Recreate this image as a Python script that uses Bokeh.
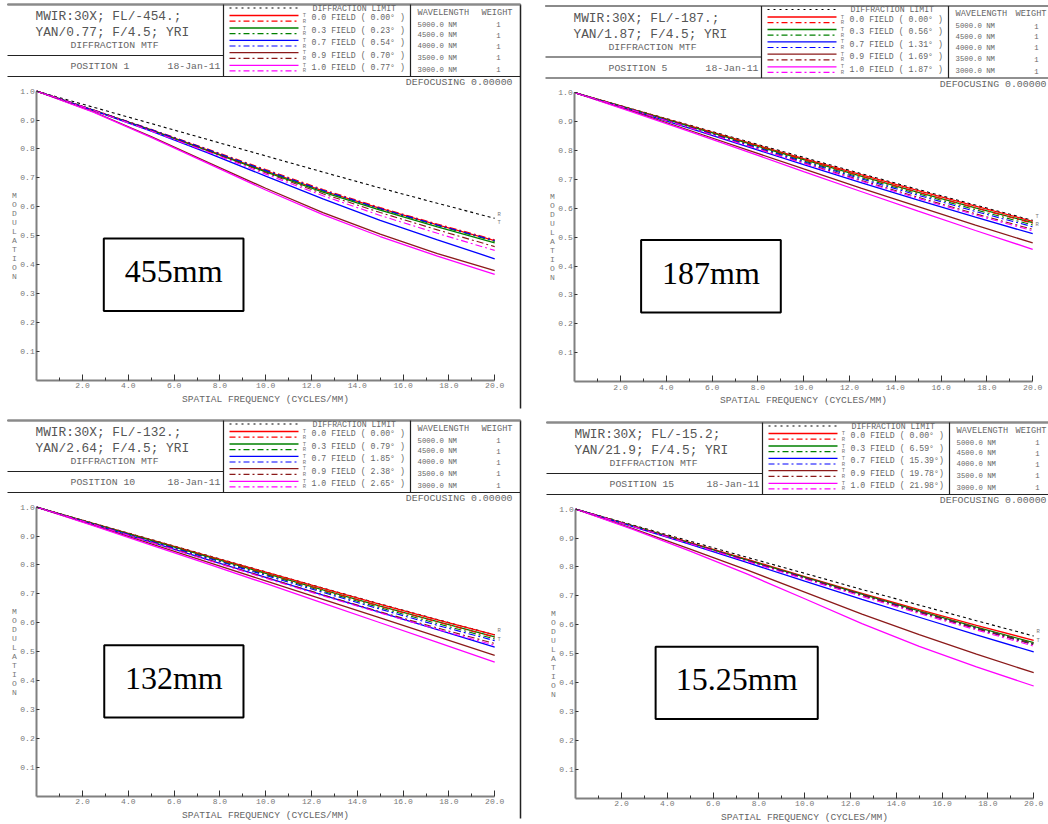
from bokeh.plotting import figure
from bokeh.models import Range1d, LinearAxis, FixedTicker, PrintfTickFormatter
from bokeh.layouts import column, row
from bokeh.core.properties import value
from bokeh.embed import file_html
from bokeh.resources import INLINE

# ---------------- data ----------------
FREQ = [0.0, 2.5, 5.0, 7.5, 10.0, 12.5, 15.0, 17.5, 20.0]
X_TICKS = [2, 4, 6, 8, 10, 12, 14, 16, 18, 20]
X_MINOR = [1, 3, 5, 7, 9, 11, 13, 15, 17, 19]
Y_TICKS = [0.1, 0.2, 0.3, 0.4, 0.5, 0.6, 0.7, 0.8, 0.9, 1.0]
FIELD_NAMES = ["0.0", "0.3", "0.7", "0.9", "1.0"]
WAVELENGTHS = ["5000.0 NM", "4500.0 NM", "4000.0 NM", "3500.0 NM", "3000.0 NM"]
WEIGHTS = ["1", "1", "1", "1", "1"]
DATE = "18-Jan-11"
SUBTITLE = "DIFFRACTION MTF"
DEFOCUS = "DEFOCUSING 0.00000"
X_LABEL = "SPATIAL FREQUENCY (CYCLES/MM)"
Y_LABEL = "MODULATION"

P1_TITLE = ["MWIR:30X; FL/-454.;", "YAN/0.77; F/4.5; YRI"]
P1_POSITION = "POSITION 1"
P1_FIELD_DEG = ["0.00", "0.23", "0.54", "0.70", "0.77"]
P1_NAME = "455mm"
P1_DIFF = [1.000, 0.944, 0.888, 0.832, 0.776, 0.720, 0.665, 0.612, 0.560]
P1_TAN = [
    [1.000, 0.934, 0.866, 0.795, 0.724, 0.655, 0.594, 0.537, 0.483],
    [1.000, 0.934, 0.865, 0.793, 0.721, 0.651, 0.588, 0.530, 0.475],
    [1.000, 0.933, 0.862, 0.786, 0.706, 0.627, 0.553, 0.485, 0.420],
    [1.000, 0.928, 0.843, 0.753, 0.664, 0.580, 0.505, 0.438, 0.379],
    [1.000, 0.927, 0.840, 0.749, 0.658, 0.573, 0.497, 0.429, 0.366],
]
P1_SAG = [
    [1.000, 0.935, 0.868, 0.799, 0.729, 0.660, 0.597, 0.540, 0.486],
    [1.000, 0.934, 0.866, 0.796, 0.725, 0.655, 0.592, 0.535, 0.480],
    [1.000, 0.934, 0.867, 0.797, 0.726, 0.657, 0.594, 0.537, 0.483],
    [1.000, 0.933, 0.864, 0.792, 0.718, 0.645, 0.580, 0.520, 0.462],
    [1.000, 0.933, 0.862, 0.789, 0.713, 0.638, 0.570, 0.508, 0.449],
]

P2_TITLE = ["MWIR:30X; FL/-187.;", "YAN/1.87; F/4.5; YRI"]
P2_POSITION = "POSITION 5"
P2_FIELD_DEG = ["0.00", "0.56", "1.31", "1.69", "1.87"]
P2_NAME = "187mm"
P2_DIFF = [1.000, 0.944, 0.888, 0.832, 0.776, 0.720, 0.665, 0.611, 0.558]
P2_TAN = [
    [1.000, 0.943, 0.886, 0.829, 0.772, 0.716, 0.661, 0.607, 0.555],
    [1.000, 0.942, 0.884, 0.826, 0.768, 0.711, 0.655, 0.601, 0.550],
    [1.000, 0.939, 0.877, 0.814, 0.751, 0.689, 0.628, 0.569, 0.512],
    [1.000, 0.936, 0.870, 0.803, 0.736, 0.670, 0.606, 0.542, 0.480],
    [1.000, 0.934, 0.866, 0.797, 0.727, 0.658, 0.590, 0.523, 0.458],
]
P2_SAG = [
    [1.000, 0.942, 0.884, 0.826, 0.768, 0.711, 0.655, 0.601, 0.548],
    [1.000, 0.941, 0.882, 0.823, 0.764, 0.706, 0.650, 0.595, 0.542],
    [1.000, 0.941, 0.881, 0.821, 0.761, 0.702, 0.645, 0.589, 0.536],
    [1.000, 0.940, 0.879, 0.818, 0.757, 0.697, 0.638, 0.581, 0.527],
    [1.000, 0.940, 0.879, 0.817, 0.755, 0.694, 0.634, 0.577, 0.522],
]

P3_TITLE = ["MWIR:30X; FL/-132.;", "YAN/2.64; F/4.5; YRI"]
P3_POSITION = "POSITION 10"
P3_FIELD_DEG = ["0.00", "0.79", "1.85", "2.38", "2.65"]
P3_NAME = "132mm"
P3_DIFF = [1.000, 0.944, 0.888, 0.832, 0.776, 0.720, 0.665, 0.611, 0.558]
P3_TAN = [
    [1.000, 0.943, 0.887, 0.831, 0.775, 0.719, 0.664, 0.610, 0.558],
    [1.000, 0.942, 0.885, 0.828, 0.771, 0.714, 0.658, 0.604, 0.551],
    [1.000, 0.940, 0.879, 0.818, 0.757, 0.696, 0.636, 0.576, 0.516],
    [1.000, 0.937, 0.873, 0.809, 0.745, 0.681, 0.617, 0.552, 0.487],
    [1.000, 0.935, 0.869, 0.803, 0.736, 0.668, 0.600, 0.532, 0.464],
]
P3_SAG = [
    [1.000, 0.942, 0.884, 0.827, 0.770, 0.713, 0.657, 0.603, 0.550],
    [1.000, 0.942, 0.883, 0.825, 0.767, 0.709, 0.652, 0.597, 0.544],
    [1.000, 0.941, 0.882, 0.823, 0.764, 0.705, 0.647, 0.591, 0.538],
    [1.000, 0.940, 0.879, 0.818, 0.757, 0.697, 0.638, 0.582, 0.528],
    [1.000, 0.940, 0.878, 0.816, 0.754, 0.693, 0.634, 0.577, 0.522],
]

P4_TITLE = ["MWIR:30X; FL/-15.2;", "YAN/21.9; F/4.5; YRI"]
P4_POSITION = "POSITION 15"
P4_FIELD_DEG = ["0.00", "6.59", "15.39", "19.78", "21.98"]
P4_NAME = "15.25mm"
P4_DIFF = [1.000, 0.945, 0.889, 0.833, 0.778, 0.722, 0.668, 0.614, 0.561]
P4_TAN = [
    [1.000, 0.942, 0.884, 0.826, 0.767, 0.709, 0.652, 0.598, 0.546],
    [1.000, 0.942, 0.883, 0.824, 0.765, 0.706, 0.648, 0.592, 0.538],
    [1.000, 0.940, 0.878, 0.815, 0.751, 0.688, 0.626, 0.565, 0.506],
    [1.000, 0.933, 0.862, 0.789, 0.713, 0.637, 0.566, 0.498, 0.434],
    [1.000, 0.930, 0.855, 0.775, 0.690, 0.604, 0.525, 0.454, 0.388],
]
P4_SAG = [
    [1.000, 0.942, 0.883, 0.824, 0.764, 0.705, 0.647, 0.590, 0.535],
    [1.000, 0.941, 0.882, 0.823, 0.763, 0.704, 0.646, 0.589, 0.534],
    [1.000, 0.941, 0.882, 0.822, 0.762, 0.703, 0.644, 0.587, 0.532],
    [1.000, 0.941, 0.881, 0.821, 0.761, 0.702, 0.643, 0.586, 0.531],
    [1.000, 0.940, 0.880, 0.819, 0.758, 0.698, 0.639, 0.582, 0.526],
]

# ---------------- layout / style ----------------
FIELD_COLORS = ["#ff0000", "#008000", "#0000ff", "#8b1a1a", "#ff00ff"]
MONO = "Liberation Mono"
SERIF = "Liberation Serif"
SX = 22.9       # px per frequency unit
SY = 288.9      # px per modulation unit
AX_PX = 29.2    # px from panel left edge to frequency 0
Y1_PY = 86.7    # px from panel top edge to modulation 1.0
PANEL_W = 513
DASHDOT = "7 3 2 3"

PANELS = [
    dict(title=P1_TITLE, pos=P1_POSITION, deg=P1_FIELD_DEG, name=P1_NAME, diff=P1_DIFF,
         tan=P1_TAN, sag=P1_SAG, tr=("R", "T"), box=(2.93, 9.03, 0.239, 0.490),
         origin=(7, 4), ph=404),
    dict(title=P2_TITLE, pos=P2_POSITION, deg=P2_FIELD_DEG, name=P2_NAME, diff=P2_DIFF,
         tan=P2_TAN, sag=P2_SAG, tr=("T", "R"), box=(2.90, 9.00, 0.239, 0.490),
         origin=(12, 5.5), ph=404),
    dict(title=P3_TITLE, pos=P3_POSITION, deg=P3_FIELD_DEG, name=P3_NAME, diff=P3_DIFF,
         tan=P3_TAN, sag=P3_SAG, tr=("R", "T"), box=(2.95, 9.03, 0.272, 0.522),
         origin=(7, 6), ph=398),
    dict(title=P4_TITLE, pos=P4_POSITION, deg=P4_FIELD_DEG, name=P4_NAME, diff=P4_DIFF,
         tan=P4_TAN, sag=P4_SAG, tr=("R", "T"), box=(3.49, 10.57, 0.274, 0.524),
         origin=(13, 8), ph=397),
]


def field_label(name, deg):
    if len(deg) <= 4:
        return f"{name} FIELD ( {deg}\u00b0 )"
    return f"{name} FIELD ( {deg}\u00b0)"


def make_panel(cfg, fig_w, fig_h):
    ox, oy = cfg["origin"]
    xs = -(ox + AX_PX) / SX
    xe = xs + fig_w / SX
    ye = 1.0 + (oy + Y1_PY) / SY
    ys = ye - fig_h / SY

    def X(px):
        return xs + (ox + px) / SX

    def Y(py):
        return ye - (oy + py) / SY

    edge = fig_w - ox - 2  # last visible panel px on the right

    p = figure(width=fig_w, height=fig_h, x_range=Range1d(xs, xe), y_range=Range1d(ys, ye),
               output_backend="svg", toolbar_location=None, min_border=0,
               x_axis_type=None, y_axis_type=None,
               background_fill_color="white", border_fill_color="white")
    p.outline_line_color = None

    def txt(pxs, pys, texts, size, color="#666666", align="left", font=MONO):
        p.text(x=[X(a) for a in pxs], y=[Y(b) for b in pys], text=texts,
               text_font=value(font), text_font_size=size, text_color=color,
               text_align=align, text_baseline="middle")

    def seg(x0, y0, x1, y1, color="#222222", width=1.2, dash="solid"):
        p.segment(x0=[X(a) for a in x0], y0=[Y(b) for b in y0],
                  x1=[X(a) for a in x1], y1=[Y(b) for b in y1],
                  line_color=color, line_width=width, line_dash=dash)

    # --- frame / header grid ---
    L, R, T, B = 0.0, PANEL_W, 0.0, cfg["ph"]
    seg([L, R, L], [T, T, B], [R, R, L], [T, B, B], color="#222222", width=1.5)
    seg([L], [T], [R], [T], color="#8a8a8a", width=2.0)
    seg([L, 216, 403, L], [72, T, T, 51], [R, 216, 403, 216], [72, 72, 72, 51],
        color="#222222", width=1.2)

    # --- title cell ---
    txt([28, 28], [12, 28], cfg["title"], "12.8px", color="#555555")
    txt([107], [41], [SUBTITLE], "9.8px", align="center")
    txt([63], [62], [cfg["pos"]], "9.8px")
    txt([213], [62], [DATE], "9.8px", align="right")

    # --- legend cell ---
    seg([222], [3.5], [291], [3.5], color="black", width=1.2, dash="2 4")
    txt([305], [3.6], ["DIFFRACTION LIMIT"], "8.2px")
    rows = [13.4, 25.9, 38.3, 50.6, 63.2]
    for i, ry in enumerate(rows):
        seg([222], [ry - 2.4], [291], [ry - 2.4], color=FIELD_COLORS[i], width=1.3)
        seg([222], [ry + 3.2], [291], [ry + 3.2], color=FIELD_COLORS[i], width=1.2, dash="6 3 2 3")
        txt([297, 297], [ry - 2.4, ry + 3.2], ["T", "R"], "5.5px", color="#777777", align="center")
        txt([304], [ry], [field_label(FIELD_NAMES[i], cfg["deg"][i])], "8.2px")

    # --- wavelength cell ---
    txt([410], [8.3], ["WAVELENGTH"], "8.6px")
    txt([min(505, edge)], [8.3], ["WEIGHT"], "8.6px", align="right")
    wrows = [20.0, 30.8, 41.7, 53.3, 65.0]
    txt([410] * 5, wrows, WAVELENGTHS, "7.3px")
    txt([491] * 5, wrows, WEIGHTS, "7.3px", align="center")

    txt([min(505, edge)], [78], [DEFOCUS], "9.9px", align="right")

    # --- curves ---
    p.line(FREQ, cfg["diff"], line_color="black", line_width=1.1, line_dash="3 3")
    for i in range(5):
        p.line(FREQ, cfg["tan"][i], line_color=FIELD_COLORS[i], line_width=1.3)
    for i in range(5):
        p.line(FREQ, cfg["sag"][i], line_color=FIELD_COLORS[i], line_width=1.1, line_dash=DASHDOT)

    end = cfg["diff"][-1]
    p.text(x=[20.12, 20.12], y=[end + 0.0145, end - 0.0145], text=list(cfg["tr"]),
           text_font=value(MONO), text_font_size="5.5px", text_color="#777777",
           text_align="left", text_baseline="middle")

    # --- axes ---
    xax = LinearAxis(fixed_location=0, bounds=(0, 20),
                     ticker=FixedTicker(ticks=X_TICKS, minor_ticks=X_MINOR),
                     formatter=PrintfTickFormatter(format="%.1f"))
    yax = LinearAxis(fixed_location=0, bounds=(0, 1),
                     ticker=FixedTicker(ticks=Y_TICKS, minor_ticks=[]),
                     formatter=PrintfTickFormatter(format="%.1f"))
    for ax in (xax, yax):
        ax.axis_line_color = "#808080"
        ax.axis_line_width = 2
        ax.major_tick_line_color = "#333333"
        ax.minor_tick_line_color = "#333333"
        ax.major_tick_out = 0
        ax.minor_tick_out = 0
        ax.major_label_text_font = MONO
        ax.major_label_text_font_size = "8px"
        ax.major_label_text_color = "#777777"
    xax.major_label_standoff = 3
    yax.major_label_standoff = 2
    xax.major_tick_in = 6
    xax.minor_tick_in = 3
    yax.major_tick_in = 3
    yax.minor_tick_in = 0
    xax.axis_label = X_LABEL
    xax.axis_label_text_font = MONO
    xax.axis_label_text_font_size = "9.6px"
    xax.axis_label_text_font_style = "normal"
    xax.axis_label_text_color = "#666666"
    xax.axis_label_standoff = 2
    p.add_layout(xax, "below")
    p.add_layout(yax, "left")

    p.text(x=[X(7)], y=[0.5], text=["\n".join(Y_LABEL)], text_font=value(MONO),
           text_font_size="8px", text_color="#777777", text_align="center",
           text_baseline="middle", text_line_height=1.0)

    # --- name box ---
    bx0, bx1, by0, by1 = cfg["box"]
    p.quad(left=[bx0], right=[bx1], bottom=[by0], top=[by1], fill_color="white",
           line_color="black", line_width=2)
    p.text(x=[(bx0 + bx1) / 2], y=[(by0 + by1) / 2 + 0.012], text=[cfg["name"]],
           text_font=value(SERIF), text_font_size="32px", text_color="black",
           text_align="center", text_baseline="middle")
    return p


p1 = make_panel(PANELS[0], 533, 414)
p2 = make_panel(PANELS[1], 515, 414)
p3 = make_panel(PANELS[2], 533, 410)
p4 = make_panel(PANELS[3], 515, 410)

layout = column(row(p1, p2, spacing=0), row(p3, p4, spacing=0), spacing=0)
open("out.html", "w").write(file_html(layout, INLINE))
